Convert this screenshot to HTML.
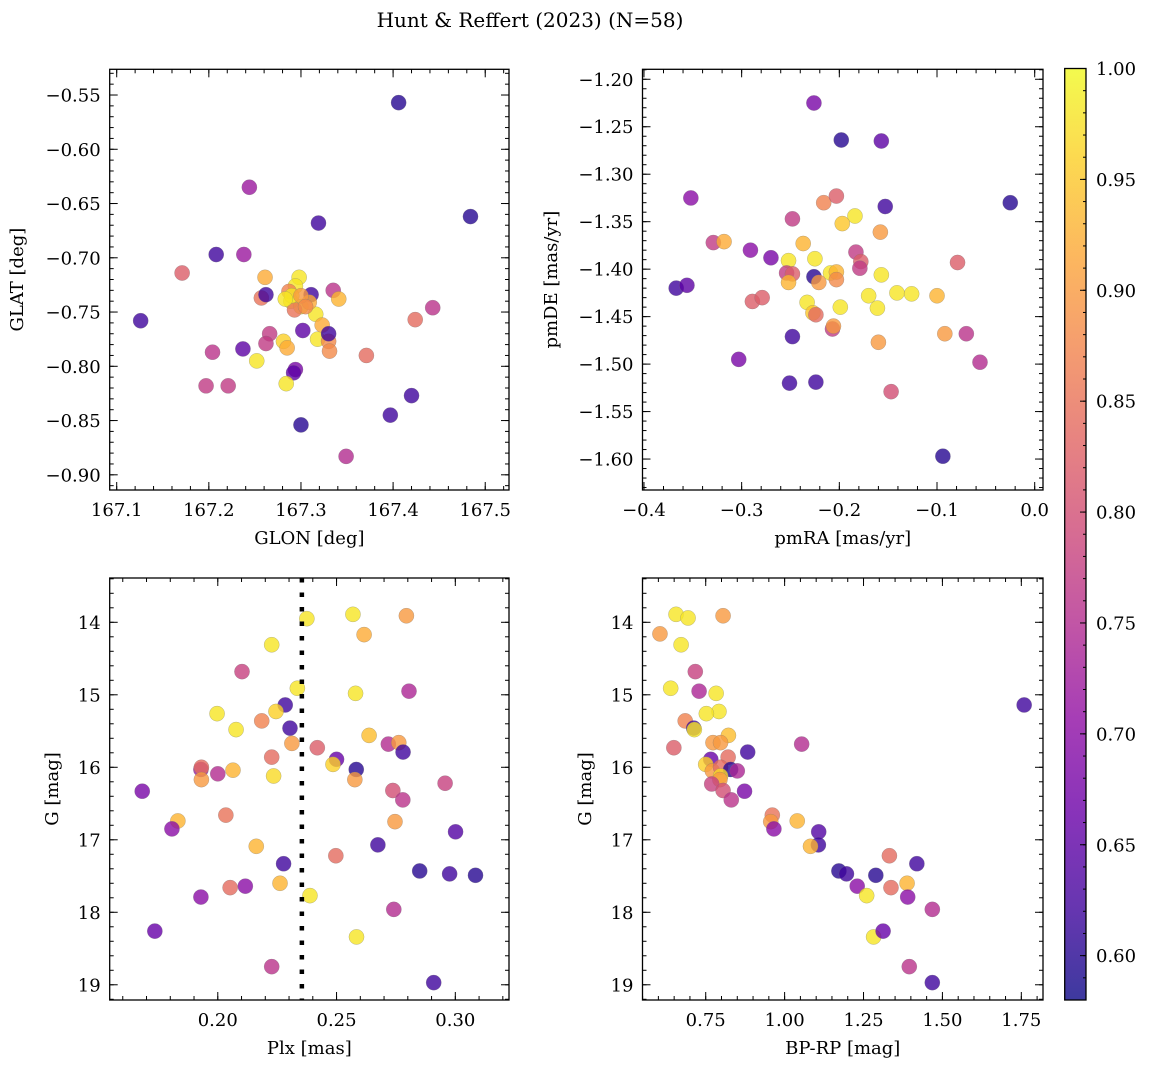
<!DOCTYPE html>
<html><head><meta charset="utf-8"><style>
html,body{margin:0;padding:0;background:#fff;}
svg{display:block;font-family:"DejaVu Serif","Liberation Serif",serif;}
</style></head><body>
<svg id="fig" width="1149" height="1068" viewBox="0 0 1149 1068" xmlns="http://www.w3.org/2000/svg">
<defs>
<linearGradient id="plasmaGrad" x1="0" y1="1" x2="0" y2="0">
<stop offset="0" stop-color="#0d0887"/><stop offset="0.1" stop-color="#41049d"/><stop offset="0.2" stop-color="#6a00a8"/><stop offset="0.3" stop-color="#8f0da4"/><stop offset="0.4" stop-color="#b12a90"/><stop offset="0.5" stop-color="#cc4778"/><stop offset="0.6" stop-color="#e16462"/><stop offset="0.7" stop-color="#f2844b"/><stop offset="0.8" stop-color="#fca636"/><stop offset="0.9" stop-color="#fcce25"/><stop offset="1" stop-color="#f0f921"/>
</linearGradient>
</defs>
<text x="530" y="27" font-size="20" text-anchor="middle">Hunt &amp; Reffert (2023) (N=58)</text>
</svg>
<script>
// ---- data ----
const glon=[167.406,167.484,167.126,167.244,167.208,167.238,167.319,167.171,167.261,167.298,167.257,167.262,167.311,167.335,167.341,167.294,167.289,167.300,167.316,167.293,167.287,167.309,167.323,167.318,167.330,167.331,167.302,167.330,167.266,167.262,167.281,167.285,167.237,167.204,167.252,167.294,167.292,167.284,167.197,167.221,167.420,167.397,167.300,167.349,167.424,167.443,167.371,167.290,167.283,167.300,167.305];
const glat=[-0.557,-0.662,-0.758,-0.635,-0.697,-0.697,-0.668,-0.714,-0.718,-0.718,-0.737,-0.734,-0.734,-0.730,-0.738,-0.726,-0.740,-0.745,-0.752,-0.748,-0.731,-0.741,-0.762,-0.775,-0.777,-0.786,-0.767,-0.770,-0.770,-0.779,-0.777,-0.783,-0.784,-0.787,-0.795,-0.803,-0.806,-0.816,-0.818,-0.818,-0.827,-0.845,-0.854,-0.883,-0.757,-0.746,-0.790,-0.735,-0.738,-0.735,-0.745];
const probPos=[0.60,0.60,0.62,0.72,0.62,0.72,0.62,0.82,0.92,0.98,0.85,0.62,0.62,0.76,0.93,0.98,0.98,0.98,0.98,0.85,0.87,0.92,0.92,0.98,0.88,0.88,0.65,0.62,0.77,0.77,0.96,0.92,0.65,0.76,0.98,0.68,0.65,0.98,0.77,0.77,0.62,0.62,0.60,0.75,0.84,0.76,0.84,0.98,0.98,0.90,0.88];
const pmra=[-0.226,-0.198,-0.157,-0.352,-0.025,-0.216,-0.203,-0.153,-0.248,-0.184,-0.197,-0.158,-0.329,-0.318,-0.237,-0.291,-0.270,-0.252,-0.225,-0.183,-0.178,-0.179,-0.079,-0.367,-0.356,-0.254,-0.248,-0.252,-0.226,-0.221,-0.209,-0.203,-0.203,-0.157,-0.170,-0.141,-0.126,-0.100,-0.289,-0.279,-0.233,-0.199,-0.161,-0.227,-0.224,-0.207,-0.206,-0.248,-0.160,-0.092,-0.070,-0.303,-0.056,-0.251,-0.224,-0.147,-0.094];
const pmde=[-1.225,-1.264,-1.265,-1.325,-1.330,-1.330,-1.323,-1.334,-1.347,-1.344,-1.352,-1.361,-1.372,-1.371,-1.373,-1.380,-1.388,-1.391,-1.389,-1.382,-1.392,-1.399,-1.393,-1.420,-1.417,-1.404,-1.405,-1.414,-1.408,-1.414,-1.404,-1.403,-1.411,-1.406,-1.428,-1.425,-1.426,-1.428,-1.434,-1.430,-1.435,-1.440,-1.441,-1.446,-1.448,-1.463,-1.460,-1.471,-1.477,-1.468,-1.468,-1.495,-1.498,-1.520,-1.519,-1.529,-1.597];
const probPm=[0.68,0.60,0.65,0.70,0.60,0.87,0.82,0.62,0.77,0.98,0.95,0.90,0.77,0.92,0.93,0.70,0.68,0.98,0.98,0.77,0.82,0.77,0.82,0.62,0.65,0.77,0.82,0.93,0.60,0.90,0.98,0.93,0.88,0.98,0.98,0.98,0.98,0.93,0.82,0.82,0.98,0.98,0.98,0.95,0.84,0.77,0.90,0.62,0.90,0.90,0.76,0.68,0.75,0.62,0.62,0.80,0.60];
const plx=[0.2375,0.2569,0.2794,0.2616,0.2227,0.2102,0.2335,0.2580,0.2805,0.2284,0.2245,0.1997,0.2185,0.2304,0.2077,0.2637,0.2312,0.2419,0.2718,0.2762,0.2780,0.2227,0.2500,0.2485,0.2583,0.1929,0.1931,0.2000,0.2064,0.1931,0.2235,0.2577,0.2957,0.1682,0.2737,0.2779,0.2034,0.1832,0.2746,0.1807,0.3001,0.2674,0.2162,0.2497,0.2277,0.2850,0.2976,0.3085,0.2262,0.2052,0.2116,0.2388,0.1929,0.2741,0.2584,0.1735,0.2227,0.2909];
const gPlx=[13.95,13.89,13.91,14.17,14.31,14.68,14.91,14.98,14.95,15.14,15.23,15.26,15.36,15.46,15.48,15.56,15.67,15.73,15.68,15.66,15.79,15.86,15.89,15.96,16.03,16.03,16.00,16.09,16.04,16.17,16.12,16.17,16.22,16.33,16.32,16.45,16.66,16.74,16.75,16.85,16.89,17.07,17.09,17.22,17.33,17.43,17.47,17.49,17.60,17.66,17.64,17.77,17.79,17.96,18.34,18.26,18.75,18.97];
const probPlx=[0.98,0.98,0.90,0.92,0.98,0.78,0.98,0.98,0.74,0.62,0.96,0.98,0.87,0.62,0.98,0.94,0.90,0.82,0.75,0.90,0.62,0.84,0.66,0.96,0.60,0.72,0.84,0.75,0.93,0.90,0.97,0.90,0.78,0.68,0.80,0.76,0.85,0.93,0.90,0.70,0.64,0.62,0.93,0.84,0.62,0.60,0.62,0.60,0.93,0.84,0.70,0.98,0.70,0.75,0.98,0.66,0.76,0.62];
const bprp=[0.656,0.694,0.805,0.605,0.672,0.717,0.639,0.729,0.783,1.759,0.792,0.752,0.685,0.712,0.714,0.822,0.773,0.797,1.054,0.649,0.883,0.821,0.766,0.750,0.771,0.797,0.829,0.850,0.797,0.795,0.769,0.805,0.873,0.831,0.961,0.956,1.040,0.966,1.108,1.107,1.082,1.332,1.419,1.172,1.196,1.289,1.388,1.337,1.230,1.260,1.390,1.468,1.282,1.312,1.395,1.468];
const gCmd=[13.89,13.94,13.91,14.16,14.31,14.68,14.91,14.95,14.98,15.14,15.23,15.26,15.36,15.46,15.48,15.56,15.66,15.66,15.68,15.73,15.79,15.86,15.89,15.96,16.05,16.00,16.03,16.05,16.12,16.17,16.23,16.32,16.33,16.45,16.66,16.75,16.74,16.85,16.89,17.07,17.09,17.22,17.33,17.43,17.47,17.49,17.60,17.66,17.64,17.77,17.79,17.96,18.34,18.26,18.75,18.97];
const probCmd=[0.98,0.98,0.90,0.90,0.98,0.78,0.98,0.74,0.98,0.62,0.98,0.98,0.87,0.62,0.98,0.94,0.90,0.90,0.75,0.82,0.62,0.84,0.66,0.96,0.90,0.84,0.60,0.74,0.97,0.90,0.78,0.80,0.68,0.76,0.85,0.90,0.93,0.70,0.64,0.62,0.93,0.84,0.62,0.60,0.62,0.60,0.93,0.84,0.70,0.98,0.70,0.75,0.98,0.66,0.76,0.62];
const plxCut=[0.2354];
const cbTicks=[0.60,0.65,0.70,0.75,0.80,0.85,0.90,0.95,1.00];
const VMIN=0.58, VMAX=1.0;

const NS="http://www.w3.org/2000/svg";
const svg=document.getElementById('fig');
const FS=18;
function mk(tag,attrs,parent){const e=document.createElementNS(NS,tag);for(const k in attrs)e.setAttribute(k,attrs[k]);(parent||svg).appendChild(e);return e;}
const stops=[[13,8,135],[65,4,157],[106,0,168],[143,13,164],[177,42,144],[204,71,120],[225,100,98],[242,132,75],[252,166,54],[252,206,37],[240,249,33]];
function plasma(p){let t=(p-VMIN)/(VMAX-VMIN);t=Math.max(0,Math.min(1,t))*10;const i=Math.min(9,Math.floor(t)),f=t-i;const a=stops[i],b=stops[i+1];return 'rgb('+a.map((v,k)=>Math.round(v+(b[k]-v)*f)).join(',')+')';}
function fmt(v,d){const s=Math.abs(v).toFixed(d);return (v< -1e-9?'\u2212':'')+s;}
function ticks(lo,hi,step){const out=[];let k=Math.ceil(lo/step-1e-6);for(;k*step<=hi+1e-9;k++)out.push(+(k*step).toFixed(6));return out;}

function panel(cfg){
  const g=mk('g',{});
  
  
  const {x0,x1,y0,y1,xd,yd}=cfg;
  const sx=v=>x0+(v-xd[0])/(xd[1]-xd[0])*(x1-x0);
  const sy=v=>y0+(v-yd[0])/(yd[1]-yd[0])*(y1-y0);
  const cid='clip-'+cfg.name;
  const cp=mk('clipPath',{id:cid},g);mk('rect',{x:x0,y:y0,width:x1-x0,height:y1-y0},cp);
  const pts=mk('g',{'clip-path':'url(#'+cid+')'},g);
  
  
  for(let i=0;i<cfg.xs.length;i++){
    const c=mk('circle',{cx:sx(cfg.xs[i]),cy:sy(cfg.ys[i]),r:7.6,fill:plasma(cfg.ps[i]),'fill-opacity':0.8,stroke:'#777','stroke-opacity':0.5,'stroke-width':0.5},pts);
    
    
  }
  if(cfg.vline){cfg.vline.forEach(v=>{const l=mk('line',{x1:sx(v),x2:sx(v),y1:y0,y2:y1,stroke:'#000','stroke-width':4.5,'stroke-dasharray':'4.5 10'},g);
    
    });}
  const tg=mk('g',{stroke:'#000','stroke-width':1},g);
  ticks(xd[0],xd[1],cfg.xminor).forEach(v=>{const x=sx(v);mk('line',{x1:x,x2:x,y1:y1,y2:y1-4},tg);mk('line',{x1:x,x2:x,y1:y0,y2:y0+4},tg);});
  const ylo=Math.min(yd[0],yd[1]),yhi=Math.max(yd[0],yd[1]);
  ticks(ylo,yhi,cfg.yminor).forEach(v=>{const y=sy(v);mk('line',{x1:x0,x2:x0+4,y1:y,y2:y},tg);mk('line',{x1:x1,x2:x1-4,y1:y,y2:y},tg);});
  ticks(xd[0],xd[1],cfg.xmajor).forEach(v=>{const x=sx(v);mk('line',{x1:x,x2:x,y1:y1,y2:y1-8},tg);mk('line',{x1:x,x2:x,y1:y0,y2:y0+8},tg);
    const t=mk('text',{x:x,y:y1+26,'font-size':FS,'text-anchor':'middle',stroke:'none'},g);t.textContent=fmt(v,cfg.xdec);
    });
  ticks(ylo,yhi,cfg.ymajor).forEach(v=>{const y=sy(v);mk('line',{x1:x0,x2:x0+8,y1:y,y2:y},tg);mk('line',{x1:x1,x2:x1-8,y1:y,y2:y},tg);
    const t=mk('text',{x:x0-9,y:y+6.5,'font-size':FS,'text-anchor':'end',stroke:'none'},g);t.textContent=fmt(v,cfg.ydec);
    });
  const fr=mk('rect',{x:x0,y:y0,width:x1-x0,height:y1-y0,fill:'none',stroke:'#000','stroke-width':1.3},g);
  
  const xl=mk('text',{x:(x0+x1)/2,y:y1+54,'font-size':FS,'text-anchor':'middle'},g);xl.textContent=cfg.xlabel;
  
  const yl=mk('text',{x:cfg.ylx,y:(y0+y1)/2,'font-size':FS,'text-anchor':'middle',transform:'rotate(-90 '+cfg.ylx+' '+((y0+y1)/2)+')'},g);yl.textContent=cfg.ylabel;
  
}

panel({name:'sky-position-panel',x0:109.7,x1:509,y0:69.3,y1:490,xd:[167.0924,167.5258],yd:[-0.5263,-0.9140],xs:glon,ys:glat,ps:probPos,
  xmajor:0.1,xminor:0.02,ymajor:0.05,yminor:0.01,xdec:1,ydec:2,xlabel:'GLON [deg]',ylabel:'GLAT [deg]',ylx:23});
panel({name:'proper-motion-panel',x0:642.5,x1:1043,y0:69.3,y1:490,xd:[-0.4015,0.0085],yd:[-1.1895,-1.6326],xs:pmra,ys:pmde,ps:probPm,
  xmajor:0.1,xminor:0.02,ymajor:0.05,yminor:0.01,xdec:1,ydec:2,xlabel:'pmRA [mas/yr]',ylabel:'pmDE [mas/yr]',ylx:557});
panel({name:'parallax-panel',x0:109.7,x1:509,y0:578,y1:1000,xd:[0.1545,0.3226],yd:[13.389,19.21],xs:plx,ys:gPlx,ps:probPlx,vline:plxCut,
  xmajor:0.05,xminor:0.01,ymajor:1,yminor:0.2,xdec:2,ydec:0,xlabel:'Plx [mas]',ylabel:'G [mag]',ylx:58});
panel({name:'cmd-panel',x0:642.5,x1:1043,y0:578,y1:1000,xd:[0.5497,1.8187],yd:[13.389,19.21],xs:bprp,ys:gCmd,ps:probCmd,
  xmajor:0.25,xminor:0.05,ymajor:1,yminor:0.2,xdec:2,ydec:0,xlabel:'BP-RP [mag]',ylabel:'G [mag]',ylx:591});

// colorbar
(function(){
  const cx0=1064.7,cx1=1086,cy0=68.5,cy1=1000;
  const g=mk('g',{});
  
  
  mk('rect',{x:cx0,y:cy0,width:cx1-cx0,height:cy1-cy0,fill:'url(#plasmaGrad)','fill-opacity':0.8},g);
  const sy=v=>cy1-(v-VMIN)/(VMAX-VMIN)*(cy1-cy0);
  ticks(VMIN,VMAX,0.01).forEach(v=>{const y=sy(v);mk('line',{x1:cx1,x2:cx1-3,y1:y,y2:y,stroke:'#000','stroke-width':1},g);});
  cbTicks.forEach(v=>{const y=sy(v);mk('line',{x1:cx1,x2:cx1-6,y1:y,y2:y,stroke:'#000','stroke-width':1},g);
    const t=mk('text',{x:cx1+10,y:y+6.5,'font-size':FS},g);t.textContent=v.toFixed(2);
    });
  mk('rect',{x:cx0,y:cy0,width:cx1-cx0,height:cy1-cy0,fill:'none',stroke:'#000','stroke-width':1.3},g);
})();
</script>
</body></html>
